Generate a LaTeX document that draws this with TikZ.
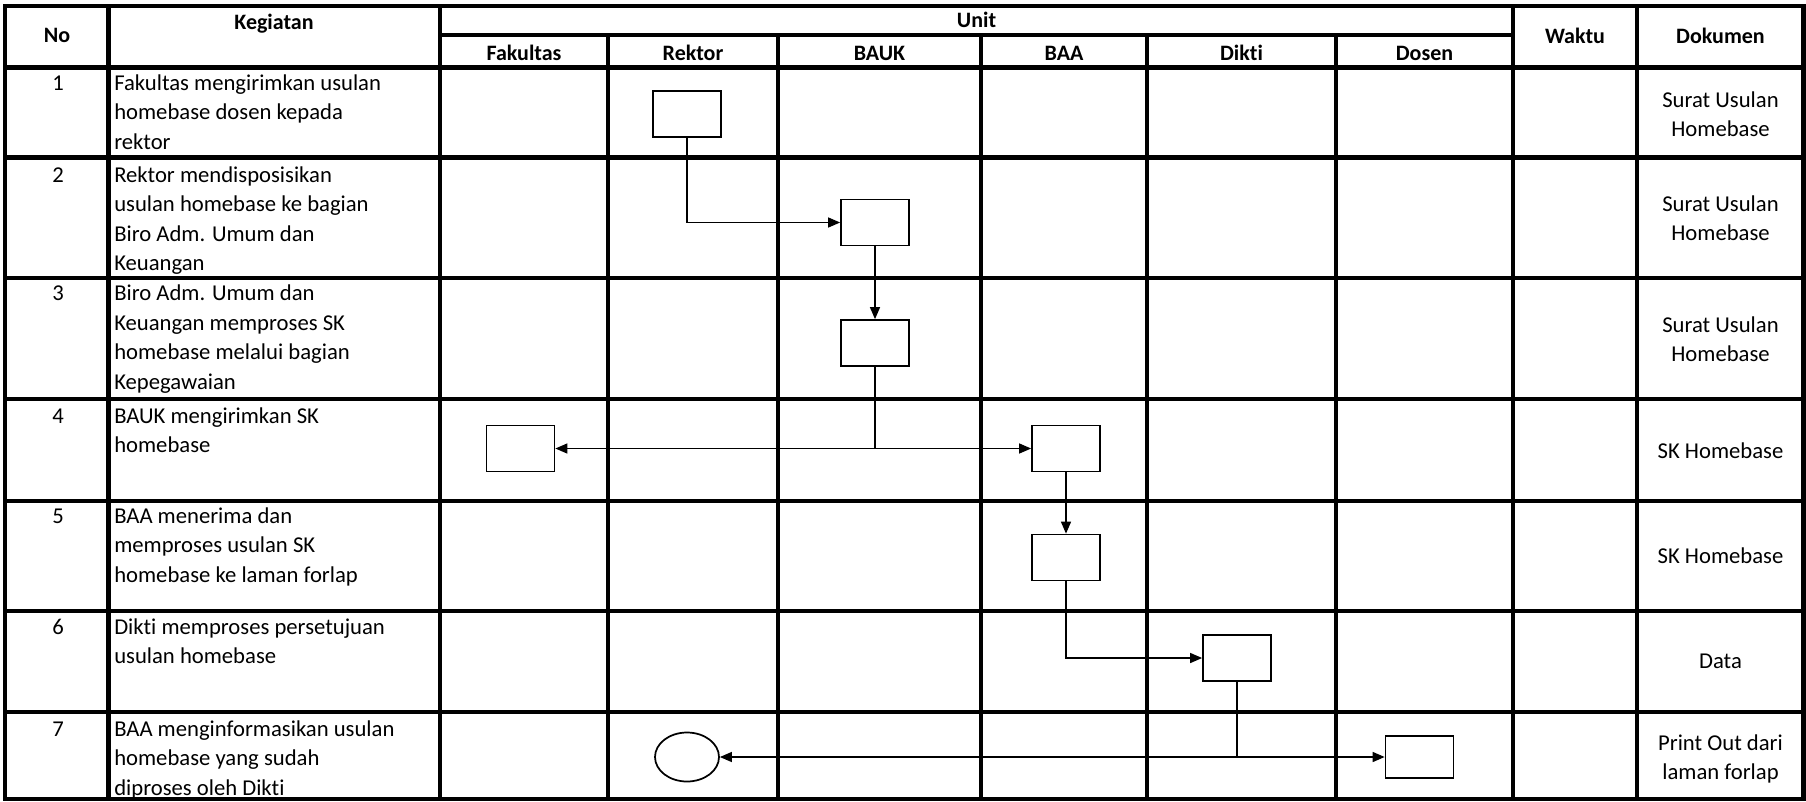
\documentclass[tikz,border=0pt]{standalone}
\usepackage{fontspec}
\setmainfont{Carlito}[Ligatures=CommonOff]
\usetikzlibrary{arrows.meta,shapes.geometric}
\begin{document}
\begin{tikzpicture}[x=0.75pt,y=-0.75pt,
  gridline/.style={line width=3.7pt,line cap=rect},
  box/.style={draw,line width=1.3pt,minimum width=51pt,minimum height=34.5pt,inner sep=0pt},
  ell/.style={draw,ellipse,line width=1.3pt,minimum width=48pt,minimum height=36.75pt,inner sep=0pt},
  conn/.style={line width=1pt},
  arr/.style={-{Triangle[length=9pt,width=7.5pt]}},
  body/.style={font=\fontsize{17}{22.1}\selectfont,inner sep=0pt},
  head/.style={font=\fontsize{16.5}{20}\selectfont\bfseries,inner sep=0pt,anchor=base}]
\useasboundingbox (0,0) rectangle (1806,801);
\fill[white] (0,0) rectangle (1806,801);
% grid
\foreach \x in {5,108.5,440,1513,1637,1803.5} \draw[gridline] (\x,6) -- (\x,799);
\foreach \x in {608,778,981,1147,1336} \draw[gridline] (\x,35) -- (\x,799);
\foreach \y in {6,67.5,157.5,278,399,501,611,712,799} \draw[gridline] (5,\y) -- (1803.5,\y);
\draw[gridline] (440,35) -- (1513,35);
% headers
\node[head] (hno) at (57,42.7) {No};
\node[head] (hkeg) at (274,29.3) {Kegiatan};
\node[head] (hunit) at (976.5,27) {Unit};
\node[head] (hfak) at (524,60) {Fakultas};
\node[head] (hrek) at (693,60) {Rektor};
\node[head] (hbauk) at (879.5,60) {BAUK};
\node[head] (hbaa) at (1064,60) {BAA};
\node[head] (hdikti) at (1241.5,60) {Dikti};
\node[head] (hdosen) at (1424.5,60) {Dosen};
\node[head] (hwaktu) at (1575,43.3) {Waktu};
\node[head] (hdok) at (1720.5,43.3) {Dokumen};
% numbers
\node[body,anchor=base] (n1) at (58,90.5) {1};
\node[body,anchor=base] (n2) at (58,182.3) {2};
\node[body,anchor=base] (n3) at (58,300.7) {3};
\node[body,anchor=base] (n4) at (58,423.5) {4};
\node[body,anchor=base] (n5) at (58,523.5) {5};
\node[body,anchor=base] (n6) at (58,634.5) {6};
\node[body,anchor=base] (n7) at (58,736.5) {7};
% kegiatan
\node[body,anchor=base west] (k1) at (114,90.5) {\parbox[t]{250pt}{\raggedright Fakultas mengirimkan usulan\\homebase dosen kepada\\rektor}};
\node[body,anchor=base west] (k2) at (114,182.3) {\parbox[t]{250pt}{\raggedright Rektor mendisposisikan\\usulan homebase ke bagian\\Biro Adm. Umum dan\\Keuangan}};
\node[body,anchor=base west] (k3) at (114,300.7) {\parbox[t]{250pt}{\raggedright Biro Adm. Umum dan\\Keuangan memproses SK\\homebase melalui bagian\\Kepegawaian}};
\node[body,anchor=base west] (k4) at (114,423.5) {\parbox[t]{250pt}{\raggedright BAUK mengirimkan SK\\homebase}};
\node[body,anchor=base west] (k5) at (114,523.5) {\parbox[t]{250pt}{\raggedright BAA menerima dan\\memproses usulan SK\\homebase ke laman forlap}};
\node[body,anchor=base west] (k6) at (114,634.5) {\parbox[t]{250pt}{\raggedright Dikti memproses persetujuan\\usulan homebase}};
\node[body,anchor=base west] (k7) at (114,736.5) {\parbox[t]{250pt}{\raggedright BAA menginformasikan usulan\\homebase yang sudah\\diproses oleh Dikti}};
% dokumen
\node[body,anchor=base] (d1) at (1720.5,107) {\parbox[t]{120pt}{\centering Surat Usulan\\Homebase}};
\node[body,anchor=base] (d2) at (1720.5,211.5) {\parbox[t]{120pt}{\centering Surat Usulan\\Homebase}};
\node[body,anchor=base] (d3) at (1720.5,332) {\parbox[t]{120pt}{\centering Surat Usulan\\Homebase}};
\node[body,anchor=base] (d4) at (1720.5,458) {SK Homebase};
\node[body,anchor=base] (d5) at (1720.5,563) {SK Homebase};
\node[body,anchor=base] (d6) at (1720.5,668) {Data};
\node[body,anchor=base] (d7) at (1720.5,750) {\parbox[t]{120pt}{\centering Print Out dari\\laman forlap}};
% flow shapes
\node[box] (b1) at (687,114) {};
\node[box] (b2) at (875,222.5) {};
\node[box] (b3) at (875,343) {};
\node[box] (b4a) at (520.5,448.5) {};
\node[box] (b4b) at (1066,448.5) {};
\node[box] (b5) at (1066,557.5) {};
\node[box] (b6) at (1237,658) {};
\node[box,minimum height=31.5pt] (b7) at (1419.5,757) {};
\node[ell] (e7) at (687,757) {};
% connectors
\draw[conn,arr] (b1.south) |- (b2.west);
\draw[conn,arr] (b2.south) -- (b3.north);
\coordinate (j4) at (b3.south |- b4a.east);
\draw[conn] (b3.south) -- (j4);
\draw[conn,arr] (j4) -- (b4a.east);
\draw[conn,arr] (j4) -- (b4b.west);
\draw[conn,arr] (b4b.south) -- (b5.north);
\draw[conn,arr] (b5.south) |- (b6.west);
\coordinate (j7) at (b6.south |- b7.west);
\draw[conn] (b6.south) -- (j7);
\draw[conn,arr] (j7) -- (e7.east);
\draw[conn,arr] (j7) -- (b7.west);
\end{tikzpicture}
\end{document}
